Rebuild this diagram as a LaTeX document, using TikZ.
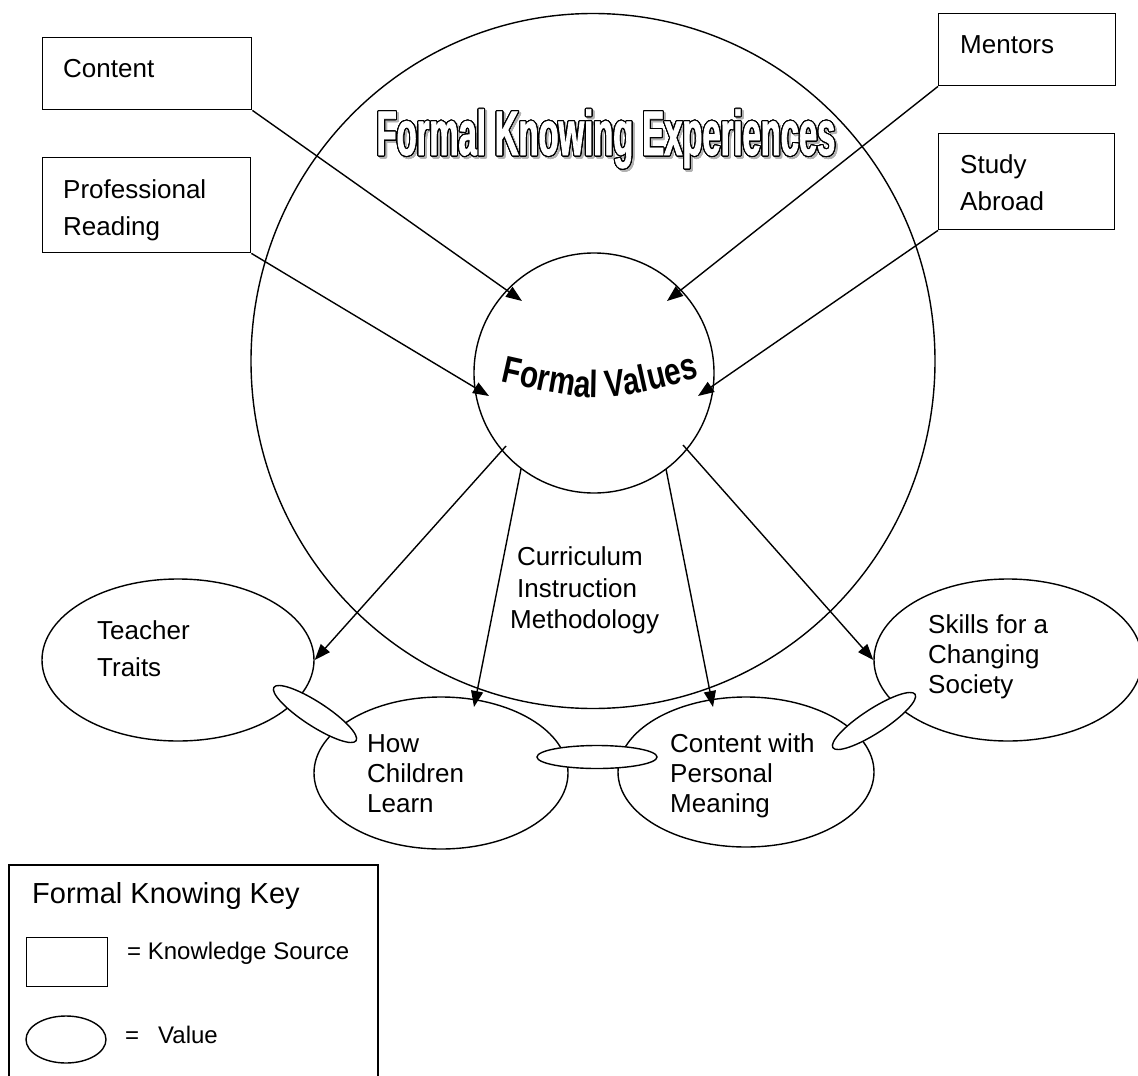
\documentclass[tikz,border=0pt]{standalone}
\usepackage{fontspec}
\setmainfont{Liberation Sans}
\newfontfamily\titlefont{Liberation Sans Bold}[FakeStretch=0.52,FakeBold=1.2]
\newfontfamily\fvfont{Liberation Sans Bold}[FakeStretch=0.78]
\usepackage{contour}
\contourlength{1.1pt}
\contournumber{32}
\usetikzlibrary{shapes.geometric,arrows.meta,decorations.text}
\tikzset{
  lbl/.style={anchor=base west, inner sep=0pt, font=\fontsize{26}{30}\selectfont},
  srcbox/.style={draw, rectangle, line width=1.4pt, inner sep=0pt, anchor=north west},
  valell/.style={draw, ellipse, line width=1.4pt, inner sep=0pt},
  linkell/.style={draw, ellipse, line width=1.4pt, inner sep=0pt, fill=white},
  arr/.style={line width=1.4pt, -{Triangle[length=16pt,width=12pt]}},
}
\begin{document}
\begin{tikzpicture}[x=1pt,y=-1pt]
\useasboundingbox (0,0) rectangle (1138,1076);
\clip (0,0) rectangle (1138,1076);

% big circles
\node[valell, minimum width=684pt, minimum height=695pt] (outer) at (593,361) {};
\node[draw, circle, line width=1.4pt, inner sep=0pt, minimum size=240pt] (fv) at (594,373) {};

% title (outlined, with light shadow)
\node[anchor=base, inner sep=0pt] (titleshadow) at (608,157)
  {\fontsize{63}{63}\selectfont\titlefont\contour{gray!60}{\textcolor{gray!60}{Formal Knowing Experiences}}};
\node[anchor=base, inner sep=0pt] (title) at (606,155)
  {\fontsize{63}{63}\selectfont\titlefont\contour{black}{\textcolor{white}{Formal Knowing Experiences}}};

% Formal Values curved text
\path[decorate, decoration={text along path, text align=center,
  text={|\fontsize{38}{38}\fvfont|Formal Values}}]
  (494,380) .. controls (600,404) .. (706,376);

% knowledge source boxes
\node[srcbox, minimum width=209pt, minimum height=72pt] (content) at (42,37) {};
\node[srcbox, minimum width=208pt, minimum height=95pt] (prof) at (42,157) {};
\node[srcbox, minimum width=177pt, minimum height=72pt] (mentors) at (938,13) {};
\node[srcbox, minimum width=176pt, minimum height=96pt] (study) at (938,133) {};

\node[lbl] (tcontent) at (63,77) {Content};
\node[lbl] (tprof1) at (63,198) {Professional};
\node[lbl] (tprof2) at (63,235) {Reading};
\node[lbl] (tmentors) at (960,53) {Mentors};
\node[lbl] (tstudy1) at (960,173) {Study};
\node[lbl] (tstudy2) at (960,210) {Abroad};

% arrow end points
\coordinate (fvA) at (522,301);
\coordinate (fvB) at (489,396);
\coordinate (fvC) at (667,301);
\coordinate (fvD) at (698,396);
\coordinate (s1) at (506,446);
\coordinate (s2) at (521,469);
\coordinate (s3) at (666,469);
\coordinate (s4) at (683,445);
\coordinate (hclT) at (474,707);
\coordinate (cpmT) at (713,707);

% value ellipses
\node[valell, minimum width=272pt, minimum height=162pt] (tt) at (178,660) {};
\node[valell, minimum width=254pt, minimum height=152pt] (hcl) at (441,773) {};
\node[valell, minimum width=256pt, minimum height=150pt] (cpm) at (746,772) {};
\node[valell, minimum width=268pt, minimum height=162pt] (sk) at (1008,660) {};

\node[lbl] (ttt1) at (97,639) {Teacher};
\node[lbl] (ttt2) at (97,676) {Traits};
\node[lbl] (thcl1) at (367,752) {How};
\node[lbl] (thcl2) at (367,782) {Children};
\node[lbl] (thcl3) at (367,812) {Learn};
\node[lbl] (tcpm1) at (670,752) {Content with};
\node[lbl] (tcpm2) at (670,782) {Personal};
\node[lbl] (tcpm3) at (670,812) {Meaning};
\node[lbl] (tsk1) at (928,633) {Skills for a};
\node[lbl] (tsk2) at (928,663) {Changing};
\node[lbl] (tsk3) at (928,693) {Society};

\node[lbl] (tcur1) at (517,565) {Curriculum};
\node[lbl] (tcur2) at (517,597) {Instruction};
\node[lbl] (tcur3) at (510,628) {Methodology};

% arrows
\draw[arr] (content.south east) -- (fvA);
\draw[arr] (prof.south east) -- (fvB);
\draw[arr] (mentors.south west) -- (fvC);
\draw[arr] (study.south west) -- (fvD);
\draw[arr] (s1) -- (tt.east);
\draw[arr] (s2) -- (hclT);
\draw[arr] (s3) -- (cpmT);
\draw[arr] (s4) -- (sk.west);

% linking ellipses
\node[linkell, minimum width=98pt, minimum height=24pt, rotate=-33] (l1) at (315,714) {};
\node[linkell, minimum width=120pt, minimum height=23pt] (l2) at (597,757) {};
\node[linkell, minimum width=98pt, minimum height=24pt, rotate=33] (l3) at (874,721) {};

% key
\draw[line width=1.4pt] (9,1080) -- (9,865) -- (378,865) -- (378,1080);
\node[anchor=base west, inner sep=0pt, font=\fontsize{29}{34}\selectfont] (keytitle) at (32,903) {Formal Knowing Key};
\node[srcbox, minimum width=81pt, minimum height=49pt] (keyrect) at (26,937) {};
\node[valell, minimum width=80pt, minimum height=47pt] (keyell) at (66,1039.5) {};
\node[anchor=base west, inner sep=0pt, font=\fontsize{24}{28}\selectfont] (keysrc) at (127,959) {= Knowledge Source};
\node[anchor=base west, inner sep=0pt, font=\fontsize{24}{28}\selectfont] (keyeq) at (125,1043) {=};
\node[anchor=base west, inner sep=0pt, font=\fontsize{24}{28}\selectfont] (keyval) at (158,1043) {Value};
\end{tikzpicture}
\end{document}
